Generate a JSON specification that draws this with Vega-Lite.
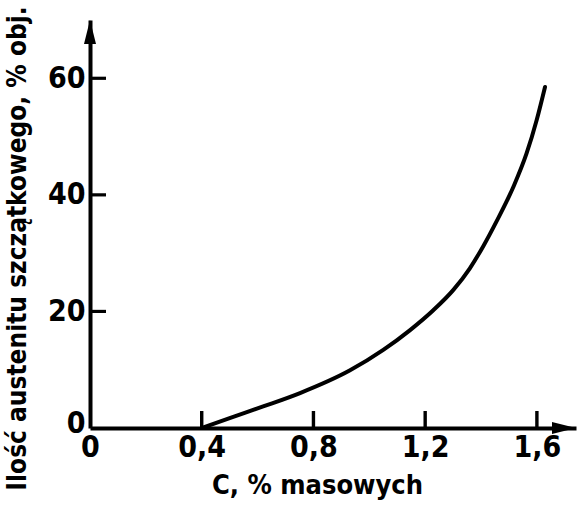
{
  "$schema": "https://vega.github.io/schema/vega-lite/v6.json",
  "width": 486,
  "height": 408,
  "autosize": {"type": "none"},
  "padding": {"left": 90, "top": 20, "right": 1, "bottom": 82},
  "background": "white",
  "config": {"view": {"stroke": null}, "font": "DejaVu Sans Condensed"},
  "layer": [
    {
      "data": {"values": [
        {"c": 0.4, "a": 0},
        {"c": 0.5, "a": 1.7},
        {"c": 0.62, "a": 3.7},
        {"c": 0.752, "a": 6.0},
        {"c": 0.931, "a": 9.9},
        {"c": 1.05, "a": 13.4},
        {"c": 1.146, "a": 16.8},
        {"c": 1.229, "a": 20.2},
        {"c": 1.301, "a": 23.7},
        {"c": 1.36, "a": 27.4},
        {"c": 1.408, "a": 31.2},
        {"c": 1.456, "a": 35.5},
        {"c": 1.516, "a": 41.4},
        {"c": 1.563, "a": 47.1},
        {"c": 1.599, "a": 52.8},
        {"c": 1.629, "a": 58.5}
      ]},
      "mark": {"type": "line", "color": "black", "strokeWidth": 4, "interpolate": "monotone", "strokeCap": "round"},
      "encoding": {
        "x": {
          "field": "c", "type": "quantitative",
          "scale": {"domain": [0, 1.74], "nice": false, "zero": true},
          "axis": {
            "values": [0, 0.4, 0.8, 1.2, 1.6],
            "labelExpr": "datum.value == 0 ? '0' : replace(format(datum.value, '.1f'), '.', ',')",
            "title": "C, % masowych",
            "titleFont": "DejaVu Sans Condensed",
            "titleFontSize": 27,
            "titleFontWeight": "bold",
            "titleColor": "black",
            "titleX": 227,
            "titleY": 57,
            "titleBaseline": "middle",
            "titleAnchor": null,
            "titleAlign": "center",
            "labelFont": "DejaVu Sans Condensed",
            "labelFontSize": 30,
            "labelFontWeight": "bold",
            "labelColor": "black",
            "labelPadding": 4,
            "labelFlush": false,
            "labelOverlap": false,
            "ticks": false,
            "domainColor": "black",
            "domainWidth": 4,
            "grid": false
          }
        },
        "y": {
          "field": "a", "type": "quantitative",
          "scale": {"domain": [0, 70], "nice": false},
          "axis": {
            "values": [0, 20, 40, 60],
            "title": "Ilość austenitu szczątkowego, % obj.",
            "titleFont": "DejaVu Sans Condensed",
            "titleFontSize": 26,
            "titleFontWeight": "bold",
            "titleColor": "black",
            "titleX": -73,
            "titleY": 228,
            "titleAngle": -90,
            "titleBaseline": "middle",
            "titleAlign": "center",
            "titleAnchor": null,
            "labelFont": "DejaVu Sans Condensed",
            "labelFontSize": 30,
            "labelFontWeight": "bold",
            "labelColor": "black",
            "labelPadding": 5,
            "labelOffset": {"condition": {"test": "datum.value == 0", "value": -5}, "value": 0},
            "labelFlush": false,
            "labelOverlap": false,
            "ticks": false,
            "domainColor": "black",
            "domainWidth": 4,
            "grid": false
          }
        }
      }
    },
    {
      "data": {"values": [{"c": 0.4, "a": 0}, {"c": 0.8, "a": 0}, {"c": 1.2, "a": 0}, {"c": 1.6, "a": 0}]},
      "mark": {"type": "point", "filled": true, "color": "black", "opacity": 1, "shape": "M-0.1,0L0.1,0L0.1,-1L-0.1,-1Z", "size": 1156},
      "encoding": {
        "x": {"field": "c", "type": "quantitative"},
        "y": {"field": "a", "type": "quantitative"}
      }
    },
    {
      "data": {"values": [{"c": 0, "a": 20}, {"c": 0, "a": 40}, {"c": 0, "a": 60}]},
      "mark": {"type": "point", "filled": true, "color": "black", "opacity": 1, "shape": "M0,-0.1L1,-0.1L1,0.1L0,0.1Z", "size": 1024},
      "encoding": {
        "x": {"field": "c", "type": "quantitative"},
        "y": {"field": "a", "type": "quantitative"}
      }
    },
    {
      "data": {"values": [{"c": 0, "a": 70}]},
      "mark": {"type": "point", "filled": true, "color": "black", "opacity": 1, "shape": "M0,0L-0.25,1L0.25,1Z", "size": 2304},
      "encoding": {
        "x": {"field": "c", "type": "quantitative"},
        "y": {"field": "a", "type": "quantitative"}
      }
    },
    {
      "data": {"values": [{"c": 1.74, "a": 0}]},
      "mark": {"type": "point", "filled": true, "color": "black", "opacity": 1, "shape": "M0,0L-1,-0.25L-1,0.25Z", "size": 2304},
      "encoding": {
        "x": {"field": "c", "type": "quantitative"},
        "y": {"field": "a", "type": "quantitative"}
      }
    }
  ]
}
